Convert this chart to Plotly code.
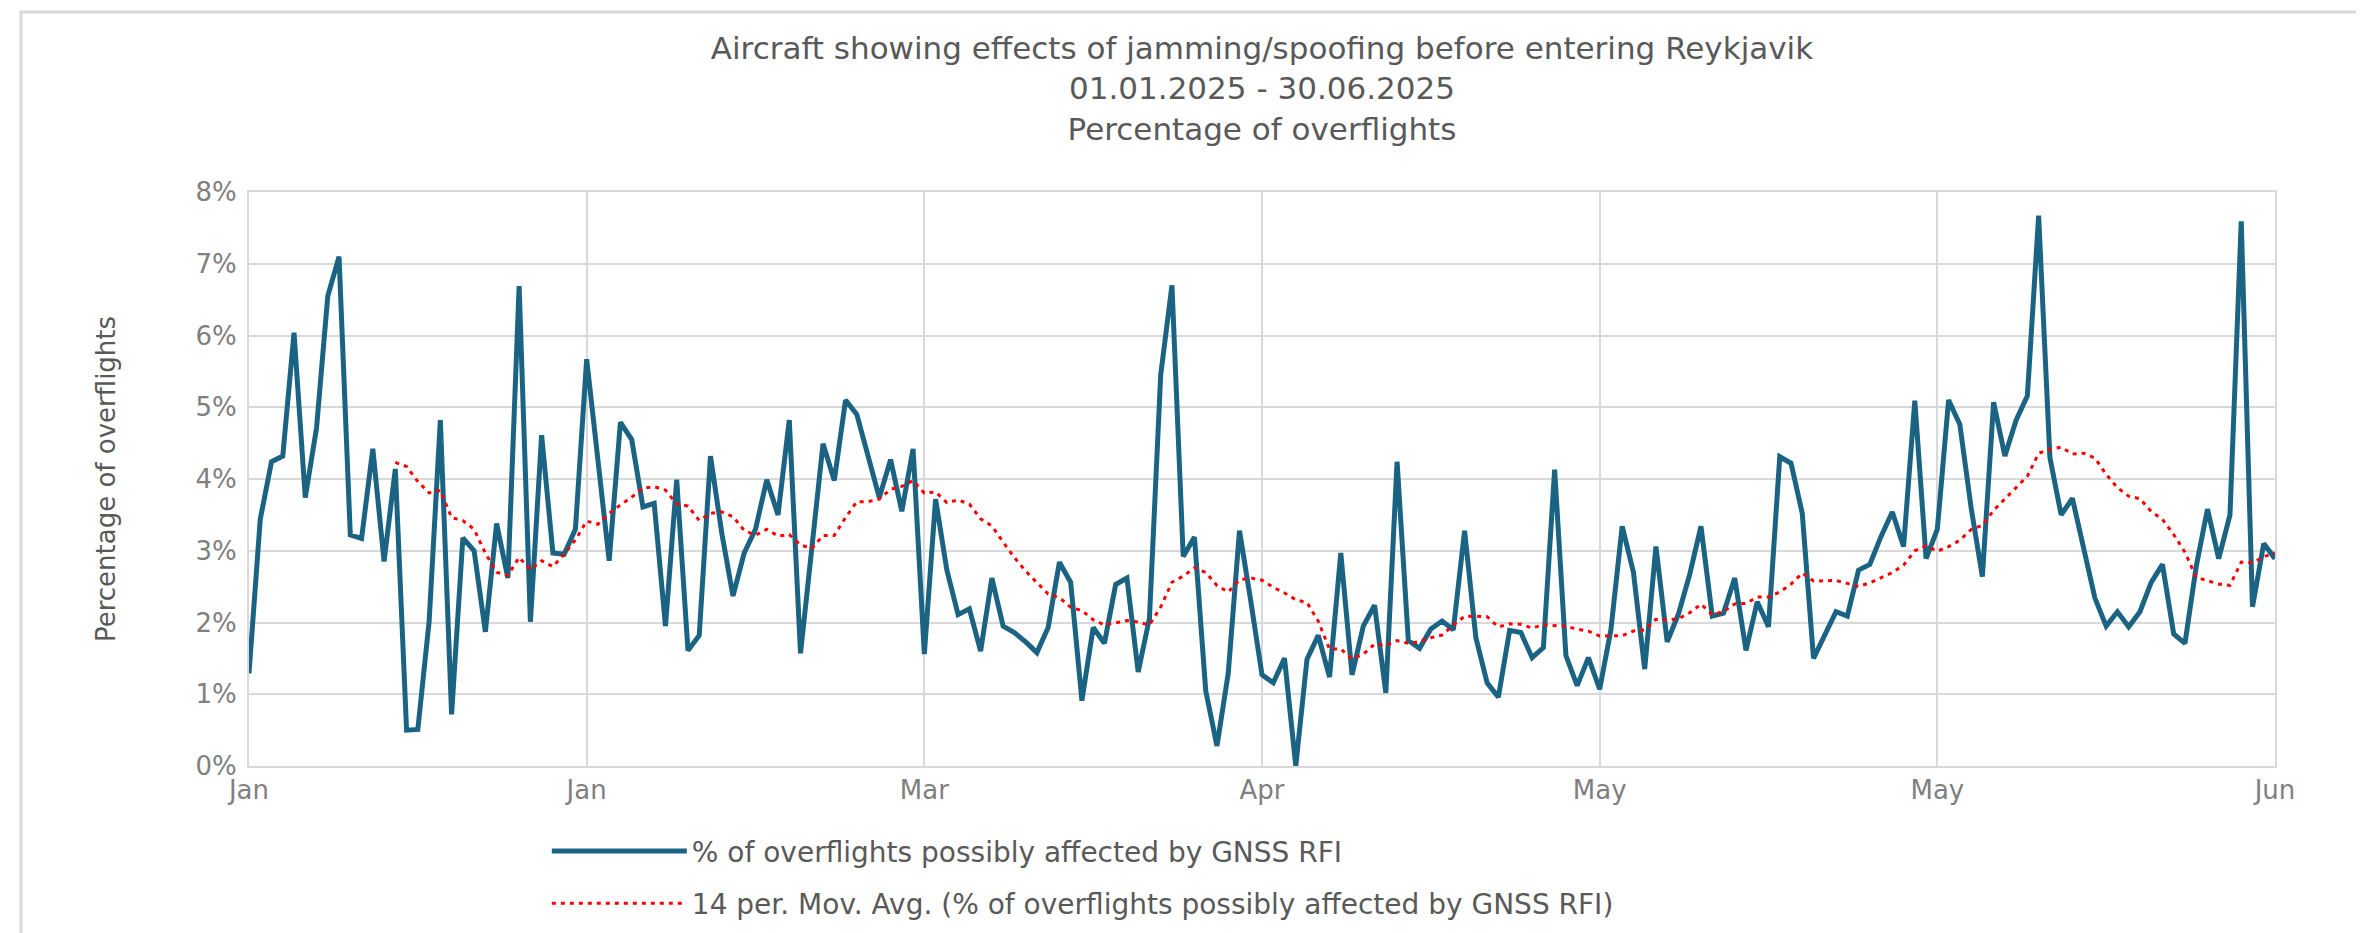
import pandas as pd
import plotly.graph_objects as go

# Day index 0 = 01.01.2025 ... 180 = 30.06.2025
pct_affected = [
    1.29, 3.44, 4.24, 4.32, 6.04, 3.74, 4.71, 6.55, 7.10, 3.22,
    3.17, 4.42, 2.85, 4.14, 0.50, 0.51, 2.01, 4.82, 0.72, 3.18,
    3.00, 1.87, 3.38, 2.62, 6.69, 2.01, 4.61, 2.97, 2.95, 3.30,
    5.67, 4.20, 2.86, 4.79, 4.55, 3.61, 3.66, 1.95, 3.99, 1.61,
    1.82, 4.32, 3.25, 2.37, 2.97, 3.30, 3.99, 3.50, 4.82, 1.57,
    3.00, 4.49, 3.98, 5.10, 4.90, 4.35, 3.74, 4.27, 3.55, 4.42,
    1.56, 3.72, 2.73, 2.11, 2.19, 1.60, 2.62, 1.95, 1.86, 1.73,
    1.58, 1.93, 2.84, 2.56, 0.91, 1.93, 1.71, 2.53, 2.62, 1.31,
    2.06, 5.45, 6.70, 2.92, 3.19, 1.05, 0.28, 1.29, 3.28, 2.30,
    1.27, 1.16, 1.50, 0.00, 1.49, 1.82, 1.24, 2.97, 1.27, 1.95,
    2.24, 1.02, 4.24, 1.75, 1.64, 1.91, 2.02, 1.90, 3.28, 1.79,
    1.16, 0.96, 1.89, 1.86, 1.51, 1.65, 4.13, 1.54, 1.12, 1.51,
    1.07, 1.90, 3.34, 2.70, 1.35, 3.06, 1.73, 2.12, 2.67, 3.34,
    2.09, 2.13, 2.62, 1.61, 2.29, 1.94, 4.31, 4.22, 3.52, 1.50,
    1.82, 2.15, 2.09, 2.73, 2.81, 3.20, 3.54, 3.06, 5.09, 2.89,
    3.30, 5.10, 4.76, 3.60, 2.64, 5.07, 4.32, 4.82, 5.16, 7.67,
    4.30, 3.50, 3.73, 3.06, 2.34, 1.95, 2.15, 1.94, 2.15, 2.56,
    2.81, 1.84, 1.71, 2.78, 3.58, 2.89, 3.50, 7.59, 2.22, 3.10,
    2.89,
]
days = list(range(len(pct_affected)))

tick_days = [0, 30, 60, 90, 120, 150, 180]
tick_labels = ["Jan", "Jan", "Mar", "Apr", "May", "May", "Jun"]
y_ticks = [0, 1, 2, 3, 4, 5, 6, 7, 8]
y_tick_labels = ["0%", "1%", "2%", "3%", "4%", "5%", "6%", "7%", "8%"]

# Excel-style 14-period trailing moving average trendline
mov_avg = pd.Series(pct_affected).rolling(14).mean().tolist()

FONT = "DejaVu Sans, Verdana, sans-serif"
GRAY = "#595959"
TICKGRAY = "#7F7F7F"
GRID = "#D9D9D9"

fig = go.Figure()
fig.add_trace(go.Scatter(
    x=days, y=pct_affected, mode="lines",
    name="% of overflights possibly affected by GNSS RFI",
    line=dict(color="#1B6383", width=5),
    legendgroup="a",
))
fig.add_trace(go.Scatter(
    x=days, y=mov_avg, mode="lines",
    name="14 per. Mov. Avg. (% of overflights possibly affected by GNSS RFI)",
    line=dict(color="#FF0000", width=3, dash="4px,5px"),
    legendgroup="b",
))

fig.update_layout(
    width=2364, height=933,
    paper_bgcolor="white", plot_bgcolor="white",
    margin=dict(l=241, r=97, t=184, b=175),
    font=dict(family=FONT, color=GRAY, size=26),
    title=dict(
        text="Aircraft showing effects of jamming/spoofing before entering Reykjavik<br>"
             "01.01.2025 - 30.06.2025<br>Percentage of overflights",
        x=0.5, xanchor="center", xref="paper",
        y=1 - 51 / 933, yanchor="middle", yref="container",
        font=dict(family=FONT, size=31, color=GRAY),
    ),
    xaxis=dict(
        range=[0, 180], tickvals=tick_days, ticktext=tick_labels,
        showgrid=True, gridcolor=GRID, gridwidth=2,
        showline=True, linecolor=GRID, linewidth=2, mirror=True,
        zeroline=False, ticks="",
        tickfont=dict(size=26, color=TICKGRAY),
    ),
    yaxis=dict(
        range=[0, 8], tickvals=y_ticks, ticktext=y_tick_labels,
        showgrid=True, gridcolor=GRID, gridwidth=2,
        showline=True, linecolor=GRID, linewidth=2, mirror=True,
        zeroline=False, ticks="", ticklabelstandoff=5,
        tickfont=dict(size=26, color=TICKGRAY),
        title=dict(text="Percentage of overflights", font=dict(size=26, color=GRAY), standoff=72),
    ),
    legend=dict(
        x=0.147, xanchor="left", y=-0.105, yanchor="top",
        orientation="v", traceorder="grouped", tracegroupgap=13,
        itemwidth=135, font=dict(size=28, color=GRAY),
        bgcolor="rgba(0,0,0,0)",
    ),
    showlegend=True,
    shapes=[dict(
        type="rect", xref="paper", yref="paper",
        x0=(13 - 241) / 2026, x1=1 + (2353 - 2267) / 2026,
        y0=-(933 - 758 + 6) / 574, y1=1 + (184 - 4) / 574,
        line=dict(color="#D9D9D9", width=3), fillcolor="rgba(0,0,0,0)", layer="below",
    )],
)

fig.write_html("out.html")
